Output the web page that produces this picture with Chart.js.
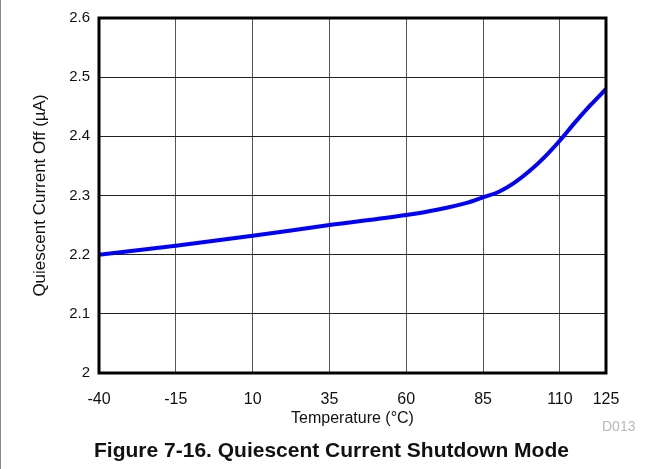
<!DOCTYPE html>
<html>
<head>
<meta charset="utf-8">
<script src="https://cdn.jsdelivr.net/npm/chart.js@4/dist/chart.umd.min.js"></script>
<style>
  html, body { margin: 0; padding: 0; background: #fff; }
  #wrap { position: relative; width: 663px; height: 469px; }
  #edge { position: absolute; left: 0; top: 0; width: 1px; height: 469px; background: #8a8a8a; }
  #code { position: absolute; left: 602px; top: 418px; font: 14px "Liberation Sans", Arial, sans-serif; color: #b8b8b8; }
  #caption { position: absolute; left: 0; width: 663px; top: 438px; text-align: center;
    font: bold 21px "Liberation Sans", Arial, sans-serif; color: #111; }
</style>
</head>
<body>
<div id="wrap">
  <canvas id="chart" width="663" height="469"></canvas>
  <div id="edge"></div>
  <div id="code">D013</div>
  <div id="caption">Figure 7-16. Quiescent Current Shutdown Mode</div>
</div>
<script>
const temperature = [-40, -15, 10, 35, 60, 70, 80, 85, 90, 95, 100, 105, 110, 115, 120, 125];
const currentOff = [2.200, 2.215, 2.232, 2.250, 2.267, 2.276, 2.288, 2.297, 2.306, 2.321, 2.341, 2.365, 2.393, 2.424, 2.453, 2.480];
const xTicks = [-40, -15, 10, 35, 60, 85, 110, 125];
const yTicks = [2, 2.1, 2.2, 2.3, 2.4, 2.5, 2.6];

// thick black frame round the plot area
const frame = {
  id: "frame",
  afterDatasetsDraw(chart) {
    const a = chart.chartArea;
    const ctx = chart.ctx;
    ctx.save();
    ctx.strokeStyle = "#000";
    ctx.lineWidth = 3;
    ctx.strokeRect(a.left, a.top, a.right - a.left, a.bottom - a.top);
    ctx.restore();
  },
};

const family = "'Liberation Sans', Arial, sans-serif";

new Chart(document.getElementById("chart"), {
  type: "line",
  data: {
    datasets: [
      {
        data: temperature.map((t, i) => ({ x: t, y: currentOff[i] })),
        borderColor: "#0000ff",
        borderWidth: 4,
        pointRadius: 0,
        cubicInterpolationMode: "monotone",
        fill: false,
      },
    ],
  },
  options: {
    responsive: false,
    animation: false,
    layout: { padding: { left: 0, right: 57, top: 16, bottom: 0 } },
    plugins: { legend: { display: false }, tooltip: { enabled: false } },
    scales: {
      x: {
        type: "linear",
        min: -40,
        max: 125,
        afterBuildTicks: (scale) => {
          scale.ticks = xTicks.map((v) => ({ value: v }));
        },
        afterFit: (scale) => {
          scale.height = 96;
        },
        grid: { color: "#555", lineWidth: 1, drawTicks: false },
        border: { display: false },
        ticks: { color: "#111", font: { family, size: 16 }, padding: 17, maxRotation: 0, autoSkip: false },
        title: {
          display: true,
          text: "Temperature (°C)",
          color: "#111",
          font: { family, size: 16 },
          padding: { top: 0, bottom: 41 },
        },
      },
      y: {
        min: 2,
        max: 2.6,
        afterBuildTicks: (scale) => {
          scale.ticks = yTicks.map((v) => ({ value: v }));
        },
        afterFit: (scale) => {
          scale.width = 99;
        },
        grid: { color: "#222", lineWidth: 1, drawTicks: false },
        border: { display: false },
        ticks: { color: "#111", font: { family, size: 15 }, padding: 9, callback: (v) => String(v) },
        title: {
          display: true,
          text: "Quiescent Current Off (µA)",
          color: "#111",
          font: { family, size: 17 },
          padding: { top: 30, bottom: 0 },
        },
      },
    },
  },
  plugins: [frame],
});
</script>
</body>
</html>
